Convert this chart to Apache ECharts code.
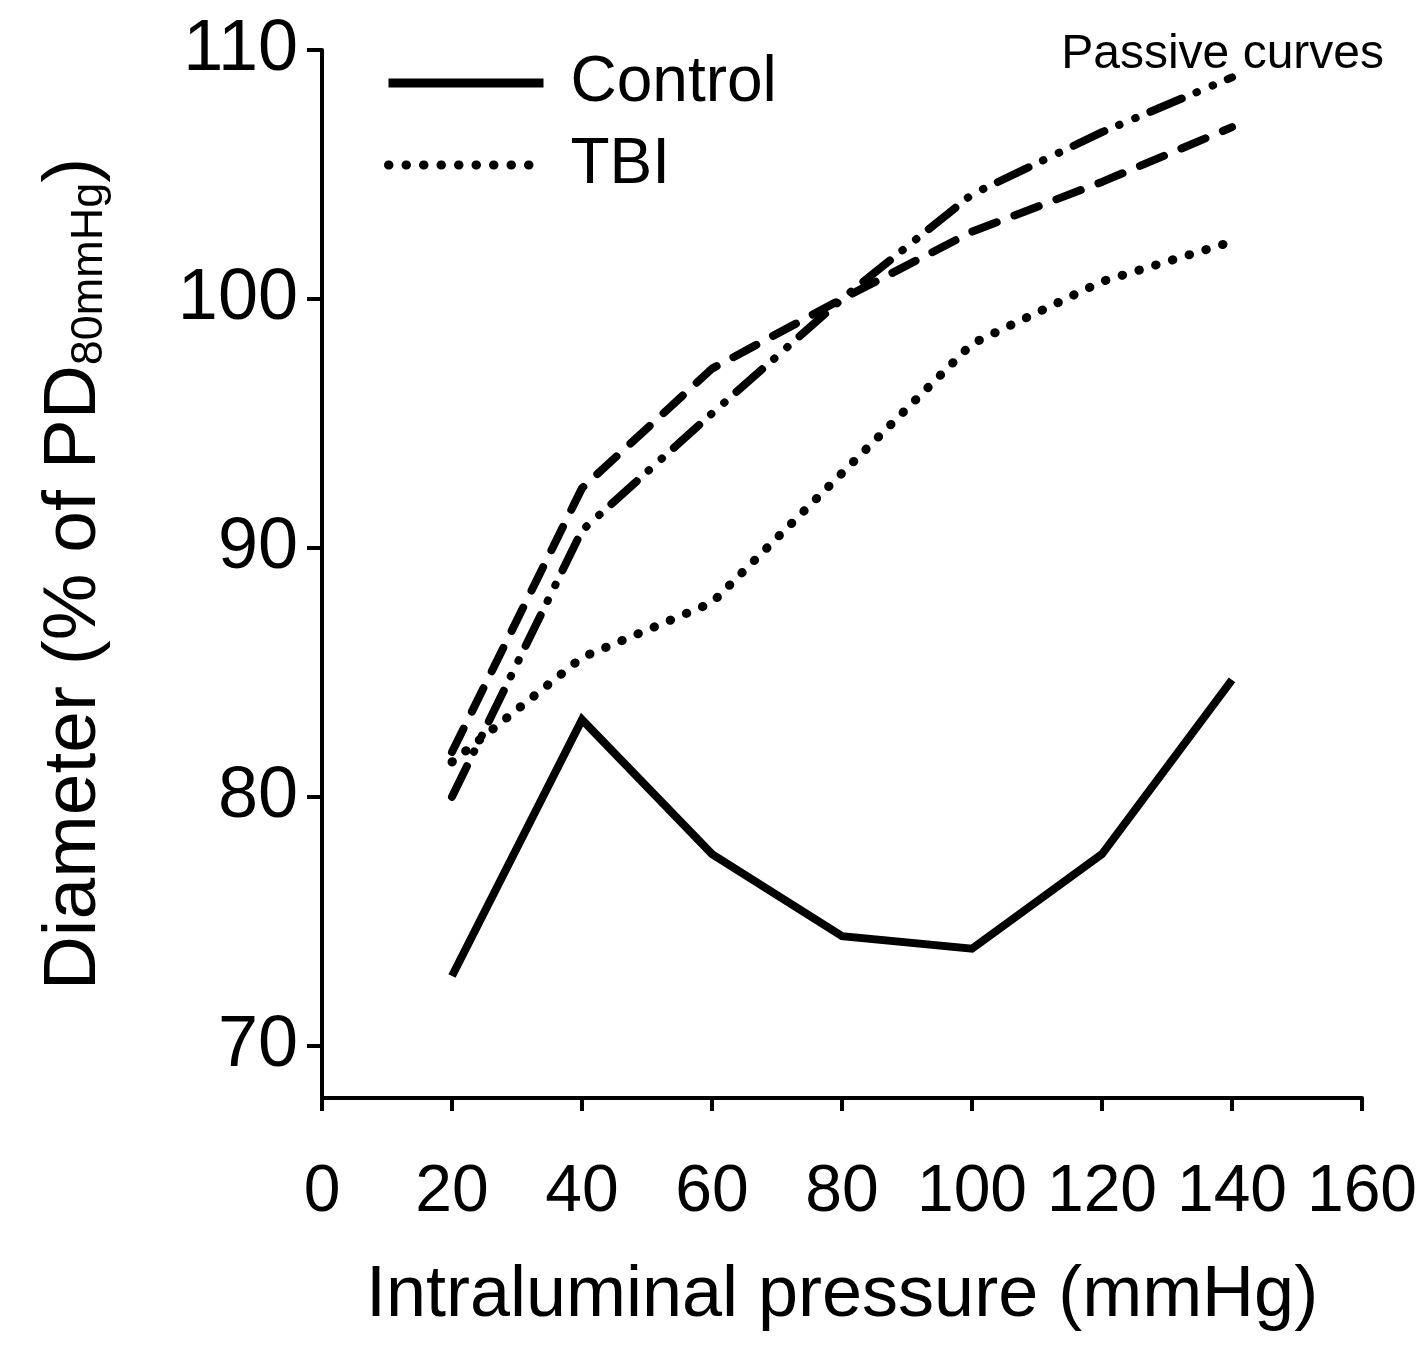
<!DOCTYPE html>
<html>
<head>
<meta charset="utf-8">
<script src="https://cdn.jsdelivr.net/npm/echarts@6/dist/echarts.min.js"></script>
<style>
  html, body { margin: 0; padding: 0; background: #fff; }
  #chart { width: 1427px; height: 1350px; }
</style>
</head>
<body>
<div id="chart"></div>
<script>
// pressure steps (mmHg)
const pressure = [20, 40, 60, 80, 100, 120, 140];
// diameter, % of passive diameter at 80 mmHg
const control = [72.8, 83.1, 77.7, 74.4, 73.9, 77.7, 84.7];
const tbi = [81.4, 85.6, 87.8, 93.0, 98.2, 100.7, 102.3];
const passiveDashed = [81.8, 92.4, 97.2, 100.0, 102.7, 104.7, 106.9];
const passiveDashDot = [80.0, 90.7, 95.4, 100.0, 104.2, 106.7, 108.9];
const yTicks = [70, 80, 90, 100, 110];

const font = '"Liberation Sans", Arial, sans-serif';
const pairs = arr => pressure.map((p, i) => [p, arr[i]]);

const chart = echarts.init(document.getElementById('chart'));

chart.setOption({
  animation: false,
  backgroundColor: '#fff',
  textStyle: { fontFamily: font, color: '#000' },
  title: {
    text: 'Passive curves',
    right: 38,
    top: 26,
    textStyle: { fontFamily: font, fontSize: 48, fontWeight: 'normal', color: '#000' }
  },
  legend: {
    data: ['Control', 'TBI'],
    orient: 'vertical',
    left: 379,
    top: 46,
    itemWidth: 155,
    itemHeight: 20,
    itemGap: 18,
    itemStyle: { opacity: 0 },
    lineStyle: { width: 9 },
    textStyle: { fontFamily: font, fontSize: 64, color: '#000', padding: [0, 0, 0, 22] }
  },
  grid: { left: 322, right: 65, top: 50, bottom: 252 },
  xAxis: {
    type: 'value',
    min: 0,
    max: 160,
    interval: 20,
    name: 'Intraluminal pressure (mmHg)',
    nameLocation: 'middle',
    nameGap: 162,
    nameTextStyle: { fontFamily: font, fontSize: 72, color: '#000' },
    splitLine: { show: false },
    axisLine: { lineStyle: { color: '#000', width: 4 } },
    axisTick: { length: 13, lineStyle: { color: '#000', width: 4 } },
    axisLabel: { fontFamily: font, fontSize: 66, color: '#000', margin: 62 }
  },
  yAxis: {
    type: 'value',
    min: 67.9,
    max: 110,
    name: '{a|Diameter (% of PD}{s|80mmHg}{a|)}',
    nameLocation: 'middle',
    nameGap: 210,
    nameTextStyle: {
      rich: {
        a: { fontFamily: font, fontSize: 75, color: '#000', lineHeight: 75, verticalAlign: 'top' },
        s: { fontFamily: font, fontSize: 45, color: '#000', lineHeight: 45, verticalAlign: 'bottom', padding: [56, 0, 0, 0] }
      }
    },
    splitLine: { show: false },
    axisLine: { lineStyle: { color: '#000', width: 4 } },
    axisTick: { length: 15, customValues: yTicks, lineStyle: { color: '#000', width: 4 } },
    axisLabel: { fontFamily: font, fontSize: 72, color: '#000', margin: 24, customValues: yTicks }
  },
  series: [
    {
      name: 'Control',
      type: 'line',
      data: pairs(control),
      symbol: 'none',
      lineStyle: { color: '#000', width: 8, join: 'miter' },
      itemStyle: { color: '#000' }
    },
    {
      name: 'TBI',
      type: 'line',
      data: pairs(tbi),
      symbol: 'none',
      lineStyle: { color: '#000', width: 9, type: [0.5, 17], cap: 'round' },
      itemStyle: { color: '#000' }
    },
    {
      name: 'Passive (dashed)',
      type: 'line',
      data: pairs(passiveDashed),
      symbol: 'none',
      lineStyle: { color: '#000', width: 8, type: [26, 19], cap: 'round' },
      itemStyle: { color: '#000' }
    },
    {
      name: 'Passive (dash-dot)',
      type: 'line',
      data: pairs(passiveDashDot),
      symbol: 'none',
      lineStyle: { color: '#000', width: 8, type: [34, 16, 0.5, 17, 0.5, 16], cap: 'round' },
      itemStyle: { color: '#000' }
    }
  ]
});
</script>
</body>
</html>
